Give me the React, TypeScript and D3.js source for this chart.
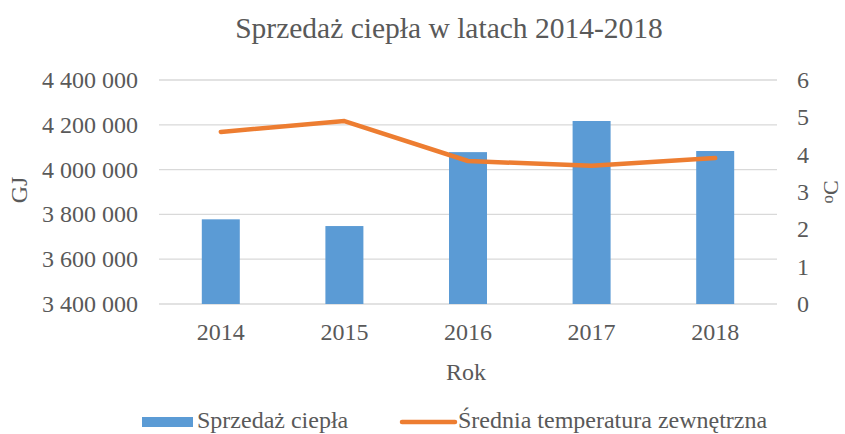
import * as d3 from "d3";

const years = ["2014", "2015", "2016", "2017", "2018"];
const sales = [3778000, 3748000, 4078000, 4217000, 4083000];
const temps = [4.61, 4.9, 3.83, 3.7, 3.91];
const leftTicks = [3400000, 3600000, 3800000, 4000000, 4200000, 4400000];
const rightTicks = [0, 1, 2, 3, 4, 5, 6];

const fmt = (v: number) => d3.format(",")(v).replace(/,/g, "\u00a0");

export default function App() {
  const width = 845;
  const height = 434;
  const plot = { left: 159, right: 777, top: 80, bottom: 304 };
  const font = "Liberation Serif, Tinos, Times New Roman, DejaVu Serif, serif";
  const textColor = "#595959";
  const ts = { fontFamily: font };

  const x = d3.scaleBand().domain(years).range([plot.left, plot.right]).paddingInner(0).paddingOuter(0);
  const yL = d3.scaleLinear().domain([3400000, 4400000]).range([plot.bottom, plot.top]);
  const yR = d3.scaleLinear().domain([0, 6]).range([plot.bottom, plot.top]);
  const barW = 38;

  const line = d3
    .line<number>()
    .x((_, i) => (x(years[i]) ?? 0) + x.bandwidth() / 2)
    .y((d) => yR(d));

  return (
    <svg
      width={width}
      height={height}
      style={{ position: "absolute", left: 0, top: 0, background: "white", fontFamily: font }}
    >
      <text x={449} y={38} textAnchor="middle" fontSize={29.5} fill={textColor} style={ts}>
        Sprzedaż ciepła w latach 2014-2018
      </text>
      {leftTicks.map((t) => (
        <g key={t}>
          <line x1={plot.left} x2={plot.right} y1={yL(t)} y2={yL(t)} stroke="#D9D9D9" strokeWidth={1.3} />
          <text x={138} y={yL(t) + 8} textAnchor="end" fontSize={24} fill={textColor} style={ts}>
            {fmt(t)}
          </text>
        </g>
      ))}
      {rightTicks.map((t) => (
        <text key={t} x={797} y={yR(t) + 8} fontSize={24} fill={textColor} style={ts}>
          {t}
        </text>
      ))}
      {years.map((yr, i) => (
        <g key={yr}>
          <rect
            x={(x(yr) ?? 0) + x.bandwidth() / 2 - barW / 2}
            y={yL(sales[i])}
            width={barW}
            height={plot.bottom - yL(sales[i])}
            fill="#5B9BD5"
          />
          <text x={(x(yr) ?? 0) + x.bandwidth() / 2} y={340} textAnchor="middle" fontSize={24} fill={textColor} style={ts}>
            {yr}
          </text>
        </g>
      ))}
      <path d={line(temps) ?? ""} fill="none" stroke="#ED7D31" strokeWidth={4.5} strokeLinecap="round" strokeLinejoin="round" />
      <text x={466} y={380} textAnchor="middle" fontSize={24} fill={textColor} style={ts}>
        Rok
      </text>
      <text transform="translate(27,190) rotate(-90)" textAnchor="middle" fontSize={24} fill={textColor} style={ts}>
        GJ
      </text>
      <text transform="translate(838,192) rotate(-90)" textAnchor="middle" fontSize={22} fill={textColor} style={ts}>
        <tspan fontSize={17} dy={-5}>o</tspan>
        <tspan dy={5}>C</tspan>
      </text>
      <rect x={142} y={417} width={51} height={10} fill="#5B9BD5" />
      <text x={197} y={428} fontSize={24} fill={textColor} style={ts}>
        Sprzedaż ciepła
      </text>
      <line x1={402} x2={455} y1={422} y2={422} stroke="#ED7D31" strokeWidth={4.5} strokeLinecap="round" />
      <text x={458} y={428} fontSize={24} fill={textColor} style={ts}>
        Średnia temperatura zewnętrzna
      </text>
    </svg>
  );
}
